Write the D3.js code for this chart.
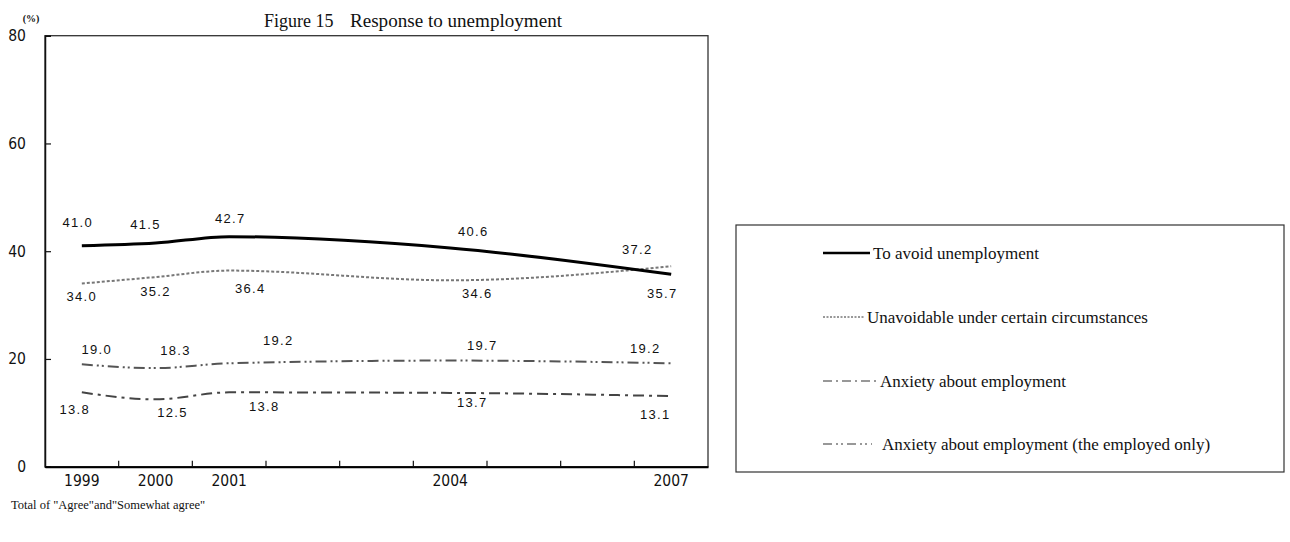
<!DOCTYPE html>
<html>
<head>
<meta charset="utf-8">
<script src="https://cdn.jsdelivr.net/npm/d3@7/dist/d3.min.js"></script>
<style>
  html, body { margin: 0; padding: 0; background: #fff; }
  svg { display: block; }
</style>
</head>
<body>
<svg id="chart" width="1290" height="542"></svg>
<script>
// ---------------- data ----------------
const axisYears = [1999, 2000, 2001, 2002, 2003, 2004, 2005, 2006, 2007];
const dataYears = [1999, 2000, 2001, 2004, 2007];
const avoidUnemployment = [41.0, 41.5, 42.7, 40.6, 35.7];
const unavoidable = [34.0, 35.2, 36.4, 34.6, 37.2];
const anxietyEmployment = [13.8, 12.5, 13.8, 13.7, 13.1];
const anxietyEmployedOnly = [19.0, 18.3, 19.2, 19.7, 19.2];
const yTicks = [0, 20, 40, 60, 80];
const seriesNames = [
  "To avoid unemployment",
  "Unavoidable under certain circumstances",
  "Anxiety about employment",
  "Anxiety about employment (the employed only)"
];
const titleParts = ["Figure 15", "Response to unemployment"];
const unitLabel = "(%)";
const footnote = "Total of \"Agree\"and\"Somewhat agree\"";

// ---------------- layout / style ----------------
const plot = { left: 45, right: 708, top: 35.7, bottom: 466.7 };
const labelOffsets = [
  [[-4, -23], [-10, -19], [1, -18], [23, -17], [-9, 18.5]],
  [[0, 13], [0, 14], [21, 18], [27, 12.6], [-34, -17]],
  [[-7, 16.5], [17, 13], [35, 14], [22, 9], [-16, 18]],
  [[15, -15], [20, -18], [49, -23], [32, -15], [-26, -15]]
];
const styles = [
  { stroke: "#000", width: 3, dash: null, legendWidth: 2.5, legendDash: null, legendX2: 870, textX: 873 },
  { stroke: "#777", width: 2, dash: "3,2", legendWidth: 1, legendDash: "2,1.5", legendX2: 864, textX: 867 },
  { stroke: "#444", width: 2, dash: "11,5,3,5", legendWidth: 1.2, legendDash: "9,4,2,4", legendX2: 877, textX: 880 },
  { stroke: "#555", width: 2, dash: "11,4,2,3,2,4", legendWidth: 1.2, legendDash: "9,4,2,3,2,4", legendX2: 872, textX: 882 }
];
const legendBox = { x: 736, y: 225, w: 548, h: 247 };
const legendRows = [253, 317, 381, 444];

const numFont = "'Liberation Sans Narrow', 'DejaVu Sans Condensed', 'Arial Narrow', sans-serif";
const labelFont = "'Liberation Sans', Arial, sans-serif";
const serifFont = "'Liberation Serif', 'Times New Roman', serif";

const svg = d3.select("#chart");

const x = d3.scaleBand().domain(axisYears).range([plot.left, plot.right]).padding(0);
const y = d3.scaleLinear().domain([0, 80]).range([plot.bottom, plot.top]);
const cx = yr => x(yr) + x.bandwidth() / 2;

// plot frame
svg.append("rect")
  .attr("x", plot.left).attr("y", plot.top)
  .attr("width", plot.right - plot.left).attr("height", plot.bottom - plot.top)
  .attr("fill", "none").attr("stroke", "#333").attr("stroke-width", 1.3);

// y axis
const yAxis = svg.append("g")
  .attr("transform", `translate(${plot.left},0)`)
  .call(d3.axisLeft(y).tickValues(yTicks).tickSize(-6).tickPadding(19).tickFormat(d3.format("d")));
yAxis.select(".domain").attr("stroke", "#111").attr("stroke-width", 1.5);
yAxis.selectAll(".tick line").attr("stroke", "#111").attr("stroke-width", 1.2);
yAxis.selectAll("text").attr("font-family", numFont).attr("font-size", 15.5).attr("fill", "#111");

// x axis
const xAxis = svg.append("g")
  .attr("transform", `translate(0,${plot.bottom})`)
  .call(d3.axisBottom(x).tickValues(dataYears).tickSize(0).tickPadding(8));
xAxis.select(".domain").attr("stroke", "#000").attr("stroke-width", 2);
xAxis.selectAll("text").attr("font-family", numFont).attr("font-size", 15.5).attr("fill", "#111");
// x tick marks at category boundaries
svg.append("g").selectAll("line")
  .data(axisYears.slice(1))
  .join("line")
  .attr("x1", d => x(d)).attr("x2", d => x(d))
  .attr("y1", plot.bottom).attr("y2", plot.bottom - 6)
  .attr("stroke", "#111").attr("stroke-width", 1.2);

// series lines
const allSeries = [avoidUnemployment, unavoidable, anxietyEmployment, anxietyEmployedOnly];
const line = d3.line()
  .x((d, i) => cx(dataYears[i]))
  .y(d => y(d))
  .curve(d3.curveMonotoneX);

const drawOrder = [3, 2, 1, 0];
drawOrder.forEach(si => {
  const s = styles[si];
  svg.append("path")
    .datum(allSeries[si])
    .attr("d", line)
    .attr("fill", "none")
    .attr("stroke", s.stroke)
    .attr("stroke-width", s.width)
    .attr("stroke-dasharray", s.dash)
    .attr("stroke-linecap", "butt");
});

// data labels
allSeries.forEach((vals, si) => {
  svg.append("g").selectAll("text")
    .data(vals)
    .join("text")
    .attr("x", (d, i) => cx(dataYears[i]) + labelOffsets[si][i][0])
    .attr("y", (d, i) => y(d) + labelOffsets[si][i][1])
    .attr("dy", "0.36em")
    .attr("text-anchor", "middle")
    .attr("font-family", labelFont)
    .attr("font-size", 13)
    .attr("letter-spacing", 1.3)
    .attr("fill", "#111")
    .text(d => d.toFixed(1));
});

// title
svg.append("text")
  .attr("x", 264).attr("y", 27)
  .attr("font-family", serifFont).attr("font-size", 18).attr("fill", "#111")
  .text(titleParts[0]);
svg.append("text")
  .attr("x", 350).attr("y", 27)
  .attr("font-family", serifFont).attr("font-size", 18).attr("fill", "#111")
  .attr("textLength", 212).attr("lengthAdjust", "spacingAndGlyphs")
  .text(titleParts[1]);

// unit label
svg.append("text")
  .attr("x", 31).attr("y", 22)
  .attr("text-anchor", "middle")
  .attr("font-family", serifFont).attr("font-size", 10).attr("font-weight", "bold").attr("fill", "#111")
  .text(unitLabel);

// footnote
svg.append("text")
  .attr("x", 11).attr("y", 509)
  .attr("font-family", serifFont).attr("font-size", 12.5).attr("fill", "#111")
  .text(footnote);

// legend
svg.append("rect")
  .attr("x", legendBox.x).attr("y", legendBox.y)
  .attr("width", legendBox.w).attr("height", legendBox.h)
  .attr("fill", "#fff").attr("stroke", "#333").attr("stroke-width", 1.2);

seriesNames.forEach((name, si) => {
  const s = styles[si];
  const ly = legendRows[si];
  svg.append("line")
    .attr("x1", 823).attr("x2", s.legendX2)
    .attr("y1", ly).attr("y2", ly)
    .attr("stroke", si === 0 ? "#000" : "#333")
    .attr("stroke-width", s.legendWidth)
    .attr("stroke-dasharray", s.legendDash);
  svg.append("text")
    .attr("x", s.textX).attr("y", ly)
    .attr("dy", "0.33em")
    .attr("font-family", serifFont).attr("font-size", 17).attr("fill", "#111")
    .text(name);
});
</script>
</body>
</html>
